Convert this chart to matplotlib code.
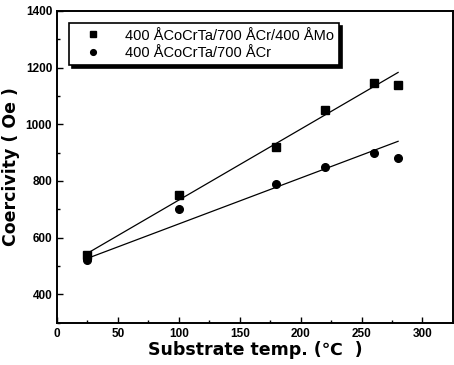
import numpy as np
import matplotlib.pyplot as plt
from matplotlib.ticker import MultipleLocator

plt.rcParams['font.family'] = ['Liberation Sans', 'DejaVu Sans']

# substrate temperature (C)
temp = [25, 100, 180, 220, 260, 280]
# coercivity (Oe)
hc_mo = [540, 750, 920, 1050, 1145, 1140]
hc_cr = [520, 700, 790, 850, 900, 880]

# fitted lines
fit_x = [25, 280]
fit_mo = [545, 1183]
fit_cr = [527, 940]

label_mo = "400 \u00c5CoCrTa/700 \u00c5Cr/400 \u00c5Mo"
label_cr = "400 \u00c5CoCrTa/700 \u00c5Cr"

fig = plt.figure(figsize=(4.54, 3.65), dpi=100)
ax = fig.add_axes([0.1256, 0.116, 0.872, 0.854])

ax.plot(fit_x, fit_mo, color='black', lw=0.9)
ax.plot(fit_x, fit_cr, color='black', lw=0.9)
ax.plot(temp, hc_mo, 's', color='black', ms=5.5, label=label_mo)
ax.plot(temp, hc_cr, 'o', color='black', ms=5.5, label=label_cr)

ax.set_xlim(0, 325)
ax.set_ylim(300, 1400)
ax.xaxis.set_minor_locator(MultipleLocator(25))
ax.yaxis.set_minor_locator(MultipleLocator(100))
ax.set_xticks([0, 50, 100, 150, 200, 250, 300])
ax.set_yticks([400, 600, 800, 1000, 1200, 1400])
ax.tick_params(which='both', direction='in', labelsize=8.5, width=1)
ax.tick_params(which='major', length=4)
ax.tick_params(which='minor', length=2)
for lab in ax.get_xticklabels() + ax.get_yticklabels():
    lab.set_fontweight('bold')
for s in ax.spines.values():
    s.set_linewidth(1.4)

ax.set_xlabel("Substrate temp. (\u2103  )", fontsize=12.5, fontweight='bold',
              family='DejaVu Sans', labelpad=1)
ax.set_ylabel("Coercivity ( Oe )", fontsize=12.5, fontweight='bold',
              family='DejaVu Sans', labelpad=4)

leg = ax.legend(loc='upper left', bbox_to_anchor=(0.03, 0.96), fontsize=10.5,
                frameon=True, fancybox=False, shadow={'color': 'black', 'alpha': 1},
                handlelength=2.6, handletextpad=0.9, borderpad=0.35,
                labelspacing=0.25, markerscale=0.75, borderaxespad=0)
leg.get_frame().set_edgecolor('black')
leg.get_frame().set_linewidth(1.2)

fig.savefig('out.png', dpi=100)
